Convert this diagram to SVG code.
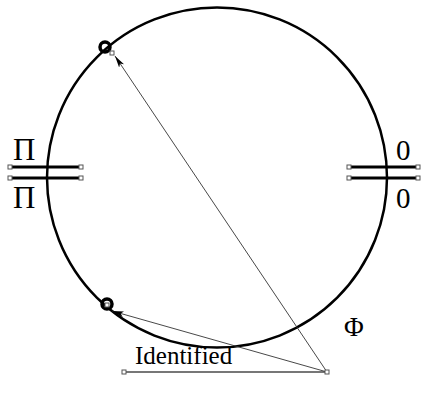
<svg xmlns="http://www.w3.org/2000/svg" width="421" height="406" viewBox="0 0 421 406">
<style>
.t{font-family:"Liberation Serif","DejaVu Serif",serif;fill:#000}
.h{fill:#fff;stroke:#555;stroke-width:1}
.bar{stroke:#000;stroke-width:3}
.ar{stroke:#333;stroke-width:0.9;fill:none;marker-end:url(#ah)}
</style>
<defs>
<marker id="ah" viewBox="0 0 12 6" refX="12" refY="3" markerWidth="12" markerHeight="6" markerUnits="userSpaceOnUse" orient="auto">
<path d="M0,0 L12,3 L0,6 L3,3 Z" fill="#000"/>
</marker>
</defs>
<rect width="421" height="406" fill="#fff"/>
<g id="circle"><circle cx="217" cy="177.5" r="170" fill="none" stroke="#000" stroke-width="2.5"/></g>
<g id="connectors">
<line x1="124" y1="372" x2="327" y2="372" stroke="#777" stroke-width="2"/>
<line class="ar" x1="327" y1="372" x2="115" y2="56"/>
<line class="ar" x1="327" y1="372" x2="112" y2="311"/>
</g>
<g id="left-cut">
<line class="bar" x1="10" y1="167" x2="81" y2="167"/>
<line class="bar" x1="10" y1="178" x2="81" y2="178"/>
<rect class="h" x="8" y="165" width="4" height="4"/><rect class="h" x="79" y="165" width="4" height="4"/>
<rect class="h" x="8" y="176" width="4" height="4"/><rect class="h" x="79" y="176" width="4" height="4"/>
<text class="t" x="13" y="160" font-size="31">Π</text>
<text class="t" x="13" y="208" font-size="31">Π</text>
</g>
<g id="right-cut">
<line class="bar" x1="349" y1="167" x2="418" y2="167"/>
<line class="bar" x1="349" y1="178" x2="418" y2="178"/>
<rect class="h" x="347" y="165" width="4" height="4"/><rect class="h" x="416" y="165" width="4" height="4"/>
<rect class="h" x="347" y="176" width="4" height="4"/><rect class="h" x="416" y="176" width="4" height="4"/>
<text class="t" x="396" y="160" font-size="29">0</text>
<text class="t" x="396" y="208" font-size="29">0</text>
</g>
<g id="top-point">
<circle cx="105" cy="47" r="5" fill="none" stroke="#000" stroke-width="3.5"/>
<rect class="h" x="110" y="51" width="4" height="4"/>
</g>
<g id="bottom-point">
<circle cx="107" cy="304" r="5" fill="none" stroke="#000" stroke-width="3.5"/>
<rect class="h" x="105" y="303" width="4" height="4"/>
</g>
<g id="label-identified">
<text class="t" x="135" y="364" font-size="25">Identified</text>
<rect class="h" x="122" y="370" width="4" height="4"/>
<rect class="h" x="325" y="370" width="4" height="4"/>
</g>
<g id="phi"><text class="t" x="344" y="336" font-size="27">Φ</text></g>
</svg>
